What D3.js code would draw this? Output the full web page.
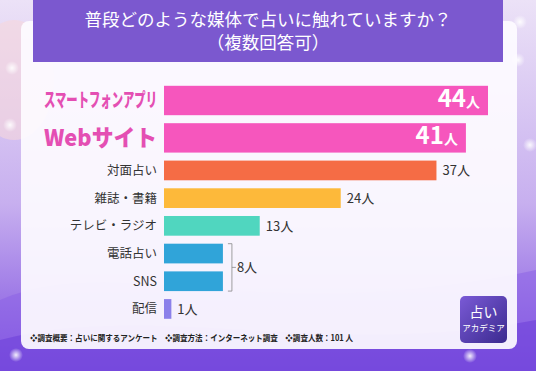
<!DOCTYPE html>
<html>
<head>
<meta charset="utf-8">
<script src="https://cdn.jsdelivr.net/npm/d3@7"></script>
<style>
  html, body { margin: 0; padding: 0; background: #fff; }
  svg { display: block; font-family: "Noto Sans CJK JP", "Noto Sans", sans-serif; }
</style>
</head>
<body>
<div id="chart"></div>
<script>
// chart data
const categories = ["スマートフォンアプリ", "Webサイト", "対面占い", "雑誌・書籍", "テレビ・ラジオ", "電話占い", "SNS", "配信"];
const values = [44, 41, 37, 24, 13, 8, 8, 1];
const colors = ["#f656bd", "#f656bd", "#f56c45", "#fdb93a", "#50d6bf", "#30a4d9", "#30a4d9", "#8b80ea"];
const highlighted = ["スマートフォンアプリ", "Webサイト"];
const groupedRows = ["電話占い", "SNS"];
const titleLines = ["普段どのような媒体で占いに触れていますか？", "（複数回答可）"];
const unit = "人";
const footnote = "❖調査概要：占いに関するアンケート　❖調査方法：インターネット調査　❖調査人数：101 人";

const width = 536, height = 371;

const svg = d3.select("#chart").append("svg")
  .attr("width", width)
  .attr("height", height);

const defs = svg.append("defs");

// background gradient
const bg = defs.append("linearGradient").attr("id", "bg").attr("x1", 0).attr("y1", 0).attr("x2", 0).attr("y2", 1);
bg.append("stop").attr("offset", "0%").attr("stop-color", "#ece2f7");
bg.append("stop").attr("offset", "55%").attr("stop-color", "#c7afef");
bg.append("stop").attr("offset", "100%").attr("stop-color", "#7d4fe0");

const glow = defs.append("radialGradient").attr("id", "glow");
glow.append("stop").attr("offset", "0%").attr("stop-color", "#fff").attr("stop-opacity", 0.9);
glow.append("stop").attr("offset", "100%").attr("stop-color", "#fff").attr("stop-opacity", 0);

const logoGrad = defs.append("linearGradient").attr("id", "logo").attr("x1", 0).attr("y1", 0).attr("x2", 1).attr("y2", 1);
logoGrad.append("stop").attr("offset", "0%").attr("stop-color", "#7a5ad6");
logoGrad.append("stop").attr("offset", "100%").attr("stop-color", "#3b2a8f");

svg.append("rect").attr("width", width).attr("height", height).attr("fill", "url(#bg)");

// soft waves at the bottom
svg.append("path")
  .attr("d", "M0,300 C120,250 260,330 536,270 L536,371 L0,371 Z")
  .attr("fill", "#8a5fe6").attr("opacity", 0.5);
svg.append("path")
  .attr("d", "M0,340 C150,300 330,360 536,320 L536,371 L0,371 Z")
  .attr("fill", "#6c3ed8").attr("opacity", 0.55);
svg.append("ellipse").attr("cx", 14).attr("cy", 80).attr("rx", 40).attr("ry", 60)
  .attr("fill", "#f7d7dc").attr("opacity", 0.6);

// sparkles
[[12, 68], [10, 125], [520, 22], [518, 60], [498, 330], [16, 355], [470, 356], [530, 145]].forEach(p => {
  svg.append("circle").attr("cx", p[0]).attr("cy", p[1]).attr("r", 7).attr("fill", "url(#glow)");
});

// white panel
svg.append("rect")
  .attr("x", 21).attr("y", 21).attr("width", 496).attr("height", 328)
  .attr("rx", 8)
  .attr("fill", "#fdfbff").attr("opacity", 0.93);

// title banner
svg.append("rect")
  .attr("x", 33).attr("y", 0).attr("width", 470).attr("height", 62)
  .attr("fill", "#7b58cf");

svg.selectAll(".title")
  .data(titleLines)
  .enter().append("text")
  .attr("class", "title")
  .attr("x", 268)
  .attr("y", (d, i) => 26 + i * 23)
  .attr("text-anchor", "middle")
  .attr("fill", "#ffffff")
  .attr("font-size", 17.5)
  .text(d => d);

// scales
const weights = categories.map(c => highlighted.includes(c) ? 1.35 : 1);
const starts = d3.cumsum([0].concat(weights));
const total = d3.sum(weights);

const y = d3.scaleLinear().domain([0, total]).range([81.8, 81.8 + total * 27.7]);
const x = d3.scaleLinear().domain([0, 44]).range([164, 488]);

const rows = categories.map((c, i) => ({
  name: c,
  value: values[i],
  color: colors[i],
  big: highlighted.includes(c),
  top: y(starts[i]) + 4,
  h: y(starts[i] + weights[i]) - y(starts[i]) - 8
}));

// bars
svg.selectAll(".bar")
  .data(rows)
  .enter().append("rect")
  .attr("class", "bar")
  .attr("x", x(0))
  .attr("y", d => d.top)
  .attr("width", d => x(d.value) - x(0))
  .attr("height", d => d.h)
  .attr("fill", d => d.color);

// category labels
const labels = svg.selectAll(".cat")
  .data(rows)
  .enter().append("text")
  .attr("class", "cat")
  .attr("x", 157)
  .attr("y", d => d.top + d.h / 2)
  .attr("dy", "0.36em")
  .attr("text-anchor", "end")
  .attr("fill", d => d.big ? "#e44fb3" : "#333")
  .attr("font-size", d => d.big ? (d.name === "Webサイト" ? 23 : 19) : 12.5)
  .attr("font-weight", d => d.big ? 900 : 400)
  .text(d => d.name);

labels.filter(d => d.big)
  .attr("textLength", 113)
  .attr("lengthAdjust", "spacingAndGlyphs");

// value labels: large ones inside bars
const inside = svg.selectAll(".valIn")
  .data(rows.filter(d => d.big))
  .enter().append("text")
  .attr("class", "valIn")
  .attr("x", d => x(d.value) - 8)
  .attr("y", d => d.top + d.h / 2)
  .attr("dy", "0.38em")
  .attr("text-anchor", "end")
  .attr("fill", "#fff")
  .attr("font-weight", 700);
inside.append("tspan").attr("font-size", 24).text(d => d.value);
inside.append("tspan").attr("font-size", 14).text(unit);

// outside labels for the rest, except grouped rows
svg.selectAll(".valOut")
  .data(rows.filter(d => !d.big && !groupedRows.includes(d.name)))
  .enter().append("text")
  .attr("class", "valOut")
  .attr("x", d => x(d.value) + 6)
  .attr("y", d => d.top + d.h / 2)
  .attr("dy", "0.36em")
  .attr("fill", "#333")
  .attr("font-size", 13)
  .text(d => d.value + unit);

// bracket for rows sharing a value
const grp = rows.filter(d => groupedRows.includes(d.name));
const bx = x(d3.max(grp, d => d.value)) + 9;
const bTop = grp[0].top, bBot = grp[grp.length - 1].top + grp[grp.length - 1].h;
const bMid = (bTop + bBot) / 2;
svg.append("path")
  .attr("d", `M${bx - 4},${bTop} H${bx} V${bBot} H${bx - 4} M${bx},${bMid} H${bx + 4}`)
  .attr("fill", "none")
  .attr("stroke", "#888")
  .attr("stroke-width", 0.8);
svg.append("text")
  .attr("x", bx + 5)
  .attr("y", bMid)
  .attr("dy", "0.36em")
  .attr("fill", "#333")
  .attr("font-size", 13)
  .text(grp[0].value + unit);

// footnote
svg.append("text")
  .attr("x", 30)
  .attr("y", 341)
  .attr("fill", "#222")
  .attr("font-size", 8.5)
  .attr("font-weight", 700)
  .attr("textLength", 323)
  .attr("lengthAdjust", "spacingAndGlyphs")
  .text(footnote);

// logo
const logo = svg.append("g").attr("transform", "translate(460,296)");
logo.append("rect").attr("width", 47).attr("height", 47).attr("rx", 5).attr("fill", "url(#logo)");
logo.append("text").attr("x", 23.5).attr("y", 21).attr("text-anchor", "middle")
  .attr("fill", "#fff").attr("font-size", 14).text("占い");
logo.append("text").attr("x", 23.5).attr("y", 35).attr("text-anchor", "middle")
  .attr("fill", "#fff").attr("font-size", 8.5).text("アカデミア");
</script>
</body>
</html>
